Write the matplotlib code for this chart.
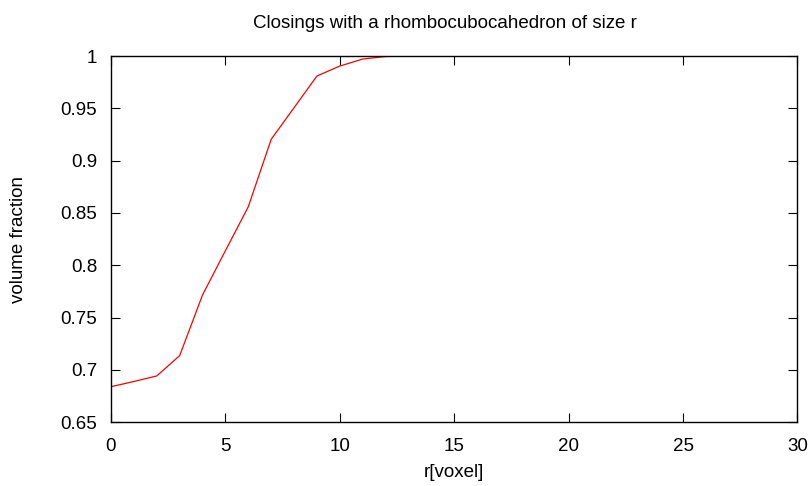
import matplotlib
matplotlib.use("Agg")
import matplotlib.pyplot as plt

plt.rcParams['font.family'] = ['Liberation Sans', 'DejaVu Sans']

r = list(range(0, 31))
frac = [0.684, 0.689, 0.6943, 0.7137, 0.7717, 0.814, 0.856, 0.9204, 0.9506, 0.9809,
        0.9904, 0.9971, 0.9995] + [1.0] * 18
xticks = [0, 5, 10, 15, 20, 25, 30]
yticks = [0.65, 0.7, 0.75, 0.8, 0.85, 0.9, 0.95, 1.0]
ylabels = ["0.65", "0.7", "0.75", "0.8", "0.85", "0.9", "0.95", "1"]

fig = plt.figure(figsize=(8.12, 4.86), dpi=100)
ax = fig.add_axes([111 / 812, (486 - 422.3) / 486, 686.5 / 812, 366.3 / 486])
ax.plot(r, frac, color="red", linewidth=0.9)

ax.set_xlim(0, 30)
ax.set_ylim(0.65, 1.0)
ax.set_xticks(xticks)
ax.set_xticklabels([str(t) for t in xticks])
ax.set_yticks(yticks)
ax.set_yticklabels(ylabels)
ax.tick_params(direction="in", length=6.5, width=0.8, top=True, right=True,
               labelsize=13.5)
ax.tick_params(axis="x", pad=11)
ax.tick_params(axis="y", pad=10)
for s in ax.spines.values():
    s.set_linewidth(1.0)

ax.set_xlabel("r[voxel]", fontsize=13.5, labelpad=7)
ax.set_ylabel("volume fraction", fontsize=13.5, labelpad=24)
# gnuplot centres the title a bit left of the plot centre
ax.set_title("Closings with a rhombocubocahedron of size r", fontsize=13.5, pad=20, x=0.487)

fig.savefig("out.png", dpi=100)
